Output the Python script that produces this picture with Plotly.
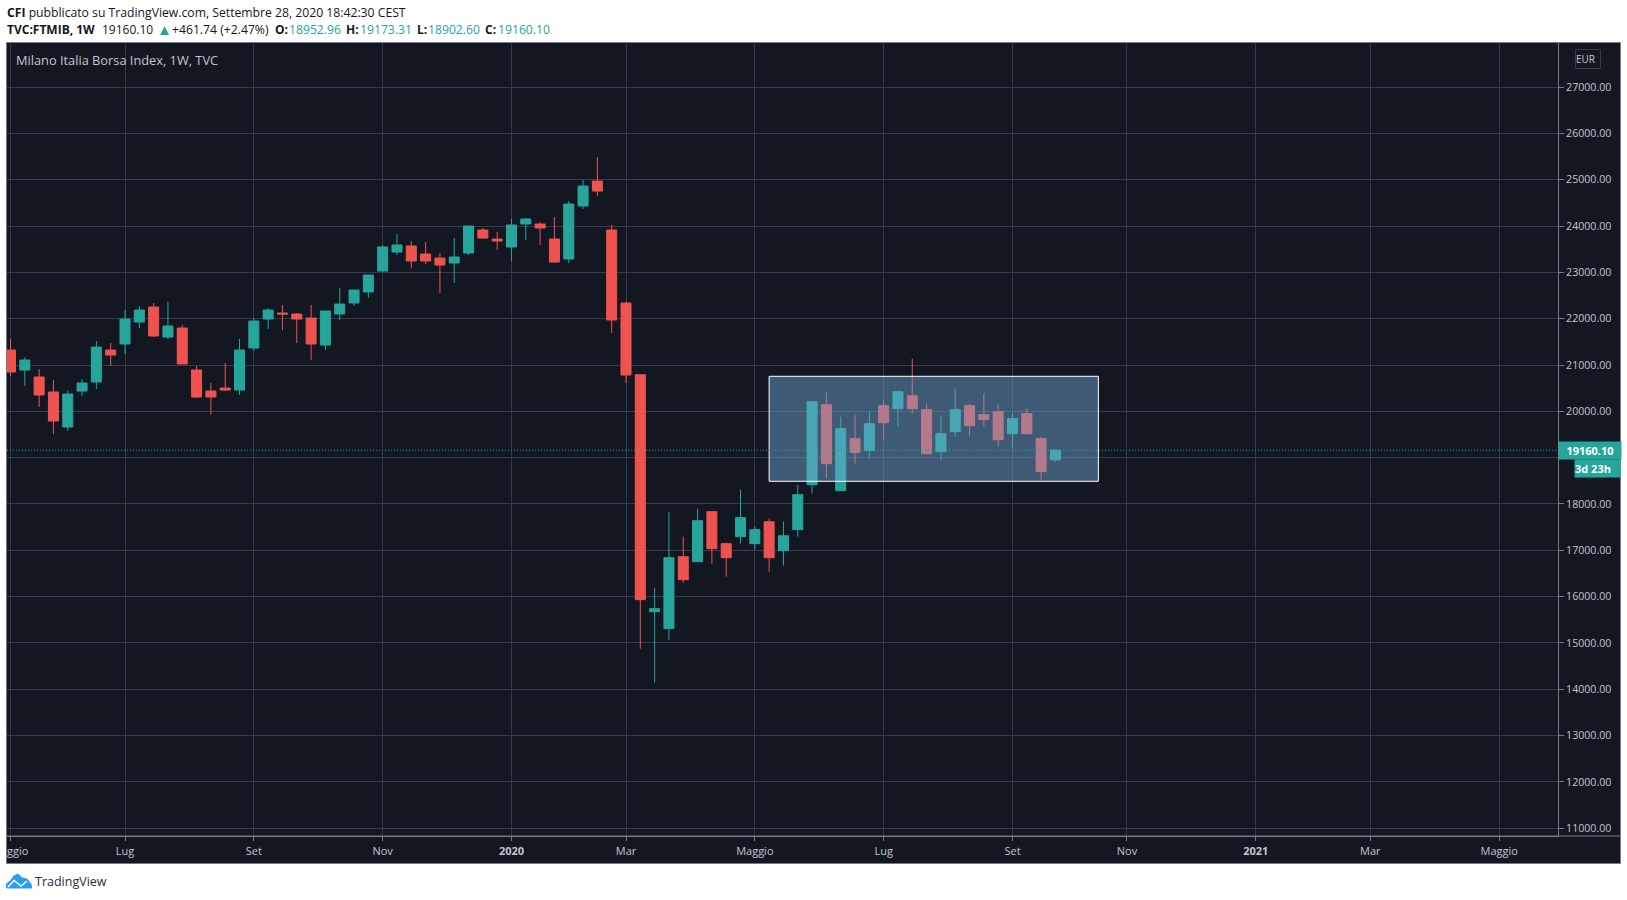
import pandas as pd
import plotly.graph_objects as go

# Weekly FTSE MIB candles, one list per field
week_start = "2019-05-06"
opens = [21323, 20892, 20741, 20417, 19661, 20438, 20633, 21323, 21453, 21928, 22251, 21604, 21798, 20892, 20438, 20503, 20460, 21366, 21992, 22122, 22100, 22014,
         21431, 22100, 22338, 22575, 23028, 23439, 23568, 23395, 23309, 23201, 23417, 23914, 23719, 23547, 24043, 24043, 23719, 23288, 24432, 24971, 23914, 22338,
         20791, 15676, 15309, 16863, 16755, 17834, 17144, 17295, 17144, 17618, 16992, 17446, 18417, 20144, 18287, 19410, 19151, 20122, 20057, 20338, 20036, 19129,
         19561, 20122, 19928, 19993, 19518, 19950, 19410, 18952.96]
highs = [21561, 21165, 20913, 20676, 20453, 20697, 21518, 21474, 22187, 22273, 22338, 22359, 21863, 20978, 20611, 21043, 21561, 22014, 22230, 22295, 22122, 22295,
         22165, 22662, 22618, 22942, 23590, 23827, 23676, 23654, 23417, 23741, 24000, 23957, 23870, 24151, 24172, 24086, 24194, 24539, 24993, 25489, 24021, 22359,
         20791, 16194, 17834, 17295, 17899, 17834, 17165, 18309, 17510, 17683, 17618, 18417, 20209, 20403, 19885, 19928, 19993, 20230, 20446, 21137, 20165, 19906,
         20489, 20165, 20381, 20144, 19971, 20057, 19453, 19173.31]
lows = [20762, 20546, 20093, 19510, 19575, 20330, 20481, 20978, 21237, 21798, 21604, 21561, 21021, 20287, 19920, 20438, 20352, 21302, 21777, 21755, 21474, 21107,
        21323, 21971, 22273, 22446, 23007, 23374, 23093, 23180, 22554, 22769, 23374, 23719, 23482, 23244, 23698, 23590, 23201, 23201, 24367, 24647, 21690, 20611,
        14877, 14143, 15071, 16302, 16755, 16712, 16431, 17144, 17014, 16539, 16669, 17295, 18223, 18547, 18287, 18870, 19000, 19388, 19669, 19950, 19065, 18935,
        19453, 19475, 19669, 19237, 19194, 19496, 18525, 18902.60]
closes = [20848, 21107, 20352, 19791, 20374, 20611, 21388, 21215, 21992, 22187, 21625, 21841, 21021, 20309, 20309, 20460, 21323, 21949, 22187, 22100, 21992, 21453,
          22165, 22316, 22618, 22942, 23547, 23590, 23244, 23244, 23158, 23331, 24000, 23741, 23676, 24021, 24151, 23957, 23223, 24475, 24863, 24755, 21971, 20784,
          15935, 15740, 16841, 16366, 17640, 17036, 16841, 17705, 17446, 16841, 17316, 18201, 20209, 18870, 19626, 19108, 19734, 19755, 20424, 20057, 19086, 19518,
          20036, 19691, 19820, 19388, 19842, 19518, 18698.36, 19160.10]

time_ticks = ["2019-05-06", "2019-07-01", "2019-09-02", "2019-11-04", "2020-01-06", "2020-03-02",
              "2020-05-04", "2020-07-06", "2020-09-07", "2020-11-02", "2021-01-04", "2021-03-01", "2021-05-03"]
time_labels = ["", "Lug", "Set", "Nov", "<b>2020</b>", "Mar", "Maggio", "Lug", "Set", "Nov", "<b>2021</b>", "Mar", "Maggio"]
price_ticks = list(range(11000, 28000, 1000))
# the 19000 label sits under the last price tag
price_labels = ["" if p == 19000 else f"{p}.00" for p in price_ticks]

last_price = 19160.10
box_start, box_end = "2020-05-11", "2020-10-19"
box_high, box_low = 20756, 18490

W, H = 1627, 900
PLOT_L, PLOT_R, PLOT_T, PLOT_B = 7, 1558, 43, 836
PANE_L, PANE_R, PANE_B = 6, 1620, 863
BG = "#131722"
GRID = "#363a4a"
EDGE = "#787b86"
UP, DOWN = "#26a69a", "#ef5350"
INK = "#131722"
AXIS_TEXT = "#c3c6ce"
FONT = "Open Sans, sans-serif"

dates = pd.date_range(week_start, periods=len(opens), freq="7D")
day0 = pd.Timestamp(week_start)
bar_px = 14.314
first_px = 10.5


def px_date(px):
    return day0 + pd.Timedelta(days=7 * (px - first_px) / bar_px)


def fx(px):
    return (px - PLOT_L) / (PLOT_R - PLOT_L)


def fy(px):
    return (PLOT_B - px) / (PLOT_B - PLOT_T)


fig = go.Figure(go.Candlestick(
    x=dates, open=opens, high=highs, low=lows, close=closes,
    increasing=dict(line=dict(color=UP, width=1), fillcolor=UP),
    decreasing=dict(line=dict(color=DOWN, width=1), fillcolor=DOWN),
    whiskerwidth=0, hoverinfo="skip",
))

shapes = [
    # dark pane behind the plot and both axes
    dict(type="rect", xref="paper", yref="paper", layer="below",
         x0=fx(PANE_L + .5), x1=fx(PANE_R + .5), y0=fy(PANE_B + .5), y1=fy(PLOT_T - .5),
         fillcolor=BG, line=dict(color=EDGE, width=1)),
    # range box over the summer consolidation
    dict(type="rect", xref="x", yref="y", layer="above",
         x0=box_start, x1=box_end, y0=box_low, y1=box_high,
         fillcolor="rgba(113,166,210,0.47)", line=dict(color="#ffffff", width=1)),
    # last price line
    dict(type="line", xref="paper", yref="y", layer="above", x0=0, x1=1, y0=last_price, y1=last_price,
         line=dict(color=UP, width=1, dash="1px,2px")),
    # bottom border of the plot reaching the pane edge
    dict(type="line", xref="paper", yref="paper", layer="above",
         x0=fx(PANE_L), x1=fx(PANE_R), y0=0, y1=0, line=dict(color=EDGE, width=1)),
]


def label(px, py, text, color=INK, size=12, anchor="left", **kw):
    return dict(xref="paper", yref="paper", x=fx(px), y=fy(py), text=text, showarrow=False,
                xanchor=anchor, yanchor="middle", xshift=0, align="left",
                font=dict(family=FONT, size=size, color=color), borderpad=0, **kw)


annotations = [
    label(5.5, 12.5, "<b>CFI</b> pubblicato su TradingView.com, Settembre 28, 2020 18:42:30 CEST", size=12.2),
    label(5.5, 29.5, "<b>TVC:FTMIB, 1W</b>"),
    label(100.5, 29.5, "19160.10"),
    label(155.5, 29, "▲", color=UP, size=15),
    label(170.5, 29.5, "+461.74 (+2.47%)", size=12.2),
    label(273.5, 29.5, "<b>O:</b>"),
    label(288, 29.5, "18952.96", color=UP, size=12.2),
    label(345, 29.5, "<b>H:</b>"),
    label(359, 29.5, "19173.31", color=UP, size=12.2),
    label(416, 29.5, "<b>L:</b>"),
    label(427, 29.5, "18902.60", color=UP, size=12.2),
    label(484, 29.5, "<b>C:</b>"),
    label(496.5, 29.5, "19160.10", color=UP, size=12.2),
    label(14.5, 60.5, "Milano Italia Borsa Index, 1W, TVC", color=AXIS_TEXT, size=12.8),
    label(5.5, 850, "ggio", color=AXIS_TEXT, size=11),
    label(1588.5, 59, "EUR", color=AXIS_TEXT, size=10, anchor="center",
          bordercolor="#363a4a", borderwidth=1, bgcolor=BG, width=24, height=18),
    dict(xref="paper", yref="y", x=fx(1558), y=last_price, text="<b>19160.10</b>", showarrow=False,
         xanchor="left", yanchor="middle", width=62, height=17, bgcolor=UP, borderpad=0,
         font=dict(family=FONT, size=11, color="#ffffff")),
    label(1597.5, 468.5, "<b>3d 23h</b>", color="#ffffff", size=11, anchor="center",
          bgcolor=UP, width=45, height=17),
    label(34, 881, "TradingView", color="#2a2e39", size=12.5),
]

# white tick joining the last price label to the plot
shapes.append(dict(type="line", xref="paper", yref="y", layer="above",
                   x0=fx(1558), x1=fx(1563), y0=last_price, y1=last_price,
                   line=dict(color="#ffffff", width=1)))

# TradingView cloud mark
cloud = [(6.5, 888), (6.5, 884), (11, 880), (14, 876), (18, 874), (22, 878), (27, 879), (31, 884), (31.5, 888)]
path = "M " + " L ".join(f"{fx(a):.5f},{fy(b):.5f}" for a, b in cloud) + " Z"
shapes.append(dict(type="path", xref="paper", yref="paper", layer="above", path=path,
                   fillcolor="#2a9df4", line=dict(color="#2a9df4", width=1)))
zig = [(8, 887), (14, 880.5), (21, 886), (27, 881)]
path2 = "M " + " L ".join(f"{fx(a):.5f},{fy(b):.5f}" for a, b in zig)
shapes.append(dict(type="path", xref="paper", yref="paper", layer="above", path=path2,
                   fillcolor="rgba(0,0,0,0)", line=dict(color="#ffffff", width=1.5)))

fig.update_layout(
    width=W, height=H, autosize=False,
    margin=dict(l=PLOT_L, r=W - PLOT_R, t=PLOT_T, b=H - PLOT_B, pad=0),
    paper_bgcolor="#ffffff", plot_bgcolor=BG,
    showlegend=False, boxgap=0.3, boxgroupgap=0,
    hovermode=False, shapes=shapes, annotations=annotations,
    font=dict(family=FONT, size=11, color=AXIS_TEXT),
    xaxis=dict(
        type="date", range=[px_date(PLOT_L), px_date(PLOT_R)],
        rangeslider=dict(visible=False),
        tickmode="array", tickvals=time_ticks, ticktext=time_labels,
        showgrid=True, gridcolor=GRID, gridwidth=1, zeroline=False,
        ticks="outside", ticklen=4, tickcolor=EDGE, tickwidth=1,
        ticklabelstandoff=1, tickangle=0,
        showline=True, linecolor=EDGE, linewidth=1,
        tickfont=dict(family=FONT, size=11, color=AXIS_TEXT),
    ),
    yaxis=dict(
        side="right", range=[10834, 27950],
        tickmode="array", tickvals=price_ticks, ticktext=price_labels,
        showgrid=True, gridcolor=GRID, gridwidth=1, zeroline=False,
        ticks="outside", ticklen=5, tickcolor=EDGE, tickwidth=1,
        showline=True, linecolor=EDGE, linewidth=1,
        tickfont=dict(family=FONT, size=10.6, color=AXIS_TEXT),
    ),
)

fig.write_html("out.html", config=dict(displayModeBar=False))
